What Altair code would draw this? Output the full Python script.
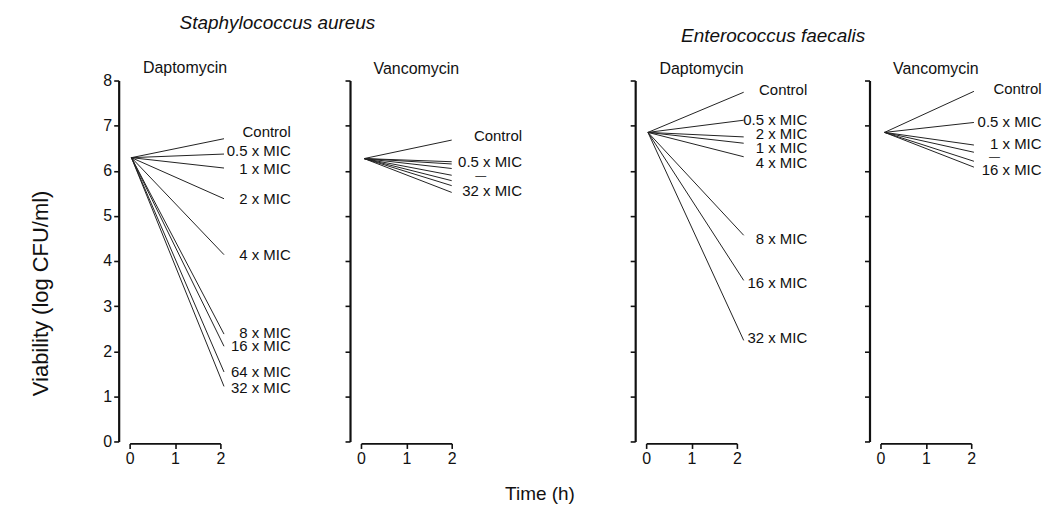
import altair as alt
import pandas as pd

FONT = "Liberation Sans"
INK = "#111111"

# ---------------- data ----------------
# S. aureus - Daptomycin
sa_dap_series = ["Control", "0.5 x MIC", "1 x MIC", "2 x MIC", "4 x MIC",
                 "8 x MIC", "16 x MIC", "64 x MIC", "32 x MIC"]
sa_dap_t = [0.04, 2.08]
sa_dap_start = 6.29
sa_dap_end = [6.71, 6.37, 6.06, 5.38, 4.14, 2.38, 2.11, 1.54, 1.22]
sa_dap_label_y = [6.86, 6.43, 6.03, 5.38, 4.14, 2.40, 2.11, 1.55, 1.18]

# S. aureus - Vancomycin
sa_van_series = ["Control", "0.5 x MIC", "1 x MIC", "2 x MIC", "4 x MIC",
                 "8 x MIC", "16 x MIC", "32 x MIC"]
sa_van_t = [0.07, 2.0]
sa_van_start = 6.27
sa_van_end = [6.68, 6.20, 6.15, 6.05, 5.90, 5.78, 5.67, 5.52]
sa_van_labels = ["Control", "0.5 x MIC", "32 x MIC"]
sa_van_label_y = [6.77, 6.20, 5.56]
sa_van_dash = [2.64, 5.88]

# E. faecalis - Daptomycin
ef_dap_series = ["Control", "0.5 x MIC", "2 x MIC", "1 x MIC", "4 x MIC",
                 "8 x MIC", "16 x MIC", "32 x MIC"]
ef_dap_t = [0.04, 2.15]
ef_dap_start = 6.85
ef_dap_end = [7.74, 7.12, 6.75, 6.61, 6.31, 4.57, 3.57, 2.24]
ef_dap_label_y = [7.79, 7.13, 6.82, 6.50, 6.17, 4.48, 3.52, 2.29]

# E. faecalis - Vancomycin
ef_van_series = ["Control", "0.5 x MIC", "1 x MIC", "2 x MIC", "4 x MIC", "16 x MIC"]
ef_van_t = [0.09, 2.06]
ef_van_start = 6.85
ef_van_end = [7.76, 7.07, 6.57, 6.41, 6.21, 6.08]
ef_van_labels = ["Control", "0.5 x MIC", "1 x MIC", "16 x MIC"]
ef_van_label_y = [7.82, 7.08, 6.59, 6.02]
ef_van_dash = [2.51, 6.31]

LABEL_X = 3.55
y_ticks = [0, 1, 2, 3, 4, 5, 6, 7, 8]
x_ticks = [0, 1, 2]

PANEL_W = 91
PANEL_H = 362


def panel(name, series, t, start, ends, labels, label_y, dash=None, ytitle=None, title_offset=3):
    rows = []
    for s, e in zip(series, ends):
        rows.append({"series": s, "time": t[0], "value": start})
        rows.append({"series": s, "time": t[1], "value": e})
    line_df = pd.DataFrame(rows)
    lab_df = pd.DataFrame({"label": labels, "time": [LABEL_X] * len(labels), "value": label_y})

    xs = alt.Scale(domain=[0, 2], nice=False, zero=False)
    ys = alt.Scale(domain=[0, 8], nice=False)
    yaxis_kw = dict(values=y_ticks, offset=11, grid=False, labels=ytitle is not None,
                    domainColor=INK, domainWidth=2.2, tickColor=INK, tickWidth=1.6, tickSize=5,
                    labelFont=FONT, labelFontSize=16, labelColor=INK, labelPadding=2)
    if ytitle:
        yaxis = alt.Axis(title=ytitle, titleFont=FONT, titleFontSize=22,
                         titleFontWeight="normal", titleColor=INK, titlePadding=50,
                         titleY=213, **yaxis_kw)
    else:
        yaxis = alt.Axis(title=None, **yaxis_kw)
    xaxis = alt.Axis(values=x_ticks, offset=2, grid=False, title=None, format=".0f",
                     labelOverlap=False, labelBound=False,
                     domainColor=INK, domainWidth=1.8, tickColor=INK, tickWidth=1.6, tickSize=5,
                     labelFont=FONT, labelFontSize=16, labelColor=INK, labelPadding=2,
                     labelFlush=False)

    lines = alt.Chart(line_df).mark_line(color="#222222", strokeWidth=1.0).encode(
        x=alt.X("time:Q", scale=xs, axis=xaxis),
        y=alt.Y("value:Q", scale=ys, axis=yaxis),
        detail="series:N",
    )
    text = alt.Chart(lab_df).mark_text(align="right", baseline="middle", font=FONT,
                                       fontSize=15, color=INK).encode(
        x=alt.X("time:Q", scale=xs),
        y=alt.Y("value:Q", scale=ys),
        text="label:N",
    )
    layers = [lines, text]
    if dash is not None:
        dash_df = pd.DataFrame({"label": ["\u2014"], "time": [dash[0]], "value": [dash[1]]})
        layers.append(alt.Chart(dash_df).mark_text(align="center", baseline="middle", font=FONT,
                                                   fontSize=11, color=INK).encode(
            x=alt.X("time:Q", scale=xs),
            y=alt.Y("value:Q", scale=ys),
            text="label:N",
        ))
    return alt.layer(*layers).properties(
        width=PANEL_W, height=PANEL_H,
        title=alt.TitleParams(name, font=FONT, fontSize=16, fontWeight="normal", color=INK,
                              anchor="middle", dx=10, offset=title_offset),
    )


def spacer(w, title=None):
    ch = alt.Chart(pd.DataFrame({"a": [0]})).mark_point(opacity=0).encode(
        x=alt.value(0), y=alt.value(0))
    if title is not None:
        return ch.properties(width=w, height=PANEL_H, title=title)
    return ch.properties(width=w, height=PANEL_H)


p1 = panel("Daptomycin", sa_dap_series, sa_dap_t, sa_dap_start, sa_dap_end,
           sa_dap_series, sa_dap_label_y, ytitle="Viability (log CFU/ml)", title_offset=-3)
p2 = panel("Vancomycin", sa_van_series, sa_van_t, sa_van_start, sa_van_end,
           sa_van_labels, sa_van_label_y, dash=sa_van_dash)
p3 = panel("Daptomycin", ef_dap_series, ef_dap_t, ef_dap_start, ef_dap_end,
           ef_dap_series, ef_dap_label_y)
p4 = panel("Vancomycin", ef_van_series, ef_van_t, ef_van_start, ef_van_end,
           ef_van_labels, ef_van_label_y, dash=ef_van_dash)

pair_title = dict(font=FONT, fontSize=19, fontStyle="italic", fontWeight="normal",
                  color=INK, anchor="start", frame="group", baseline="alphabetic")

s1 = spacer(141, alt.TitleParams("Staphylococcus aureus", dx=-41, offset=30, **pair_title))
s2 = spacer(195, alt.TitleParams("Time (h)", orient="bottom", anchor="middle", frame="group",
                                 font=FONT, fontSize=19, fontWeight="normal", color=INK,
                                 dx=-9, offset=59, baseline="alphabetic"))
s3 = spacer(144, alt.TitleParams("Enterococcus faecalis", dx=-56, offset=17, **pair_title))

chart = alt.hconcat(
    p1, s1, p2, s2, p3, s3, p4, spacing=0, bounds="flush",
).configure_view(strokeWidth=0).properties(
    padding={"left": 22, "top": 5, "right": 2, "bottom": 2}
)

chart.save("out.html", embed_options={"renderer": "svg", "actions": False})
